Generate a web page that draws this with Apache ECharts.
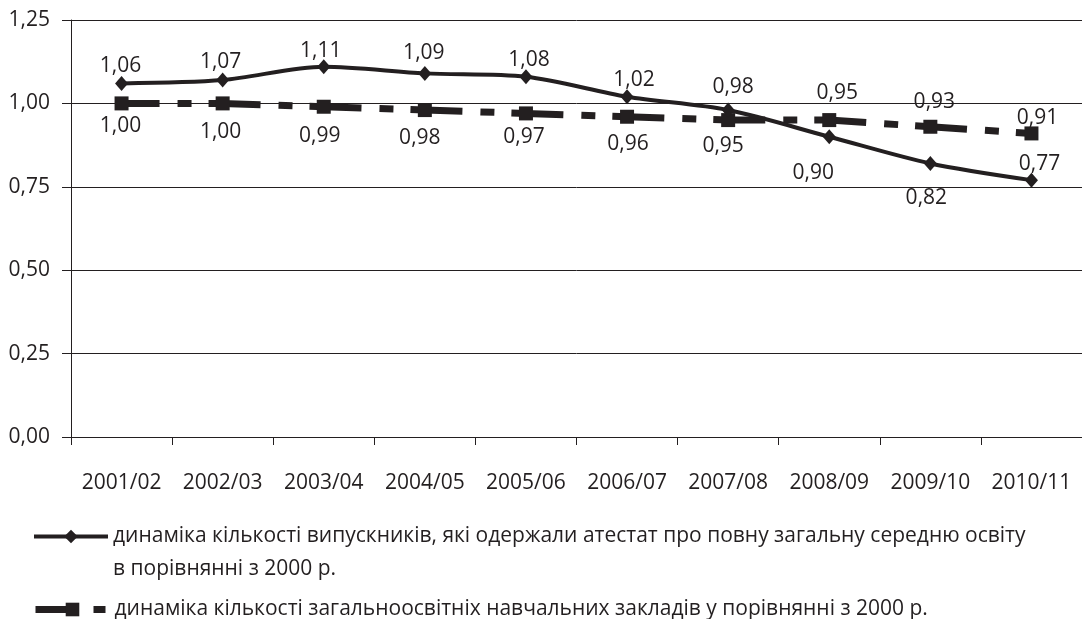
<!DOCTYPE html>
<html>
<head>
<meta charset="utf-8">
<script src="https://cdn.jsdelivr.net/npm/echarts@6/dist/echarts.min.js"></script>
<style>
html,body{margin:0;padding:0;background:#fff;}
#c{width:1082px;height:619px;}
</style>
</head>
<body>
<div id="c"></div>
<script>
const categories = ['2001/02','2002/03','2003/04','2004/05','2005/06','2006/07','2007/08','2008/09','2009/10','2010/11'];
const graduates = [1.06, 1.07, 1.11, 1.09, 1.08, 1.02, 0.98, 0.90, 0.82, 0.77];
const schools = [1.00, 1.00, 0.99, 0.98, 0.97, 0.96, 0.95, 0.95, 0.93, 0.91];
const yTicks = [0, 0.25, 0.5, 0.75, 1.0, 1.25];
const seriesNames = [
  'динаміка кількості випускників, які одержали атестат про повну загальну середню освіту в порівнянні з 2000 р.',
  'динаміка кількості загальноосвітніх навчальних закладів у порівнянні з 2000 р.'
];

// label nudges relative to each marker (styling only)
const gradLabelShift = [[-1,-17],[-2,-18],[-3,-16],[-1,-20],[3,-17],[7,-17],[5,-23],[-16,36],[-4,35],[8,-16]];
const schoolLabelShift = [[-1,23],[-2,29],[-4,29],[-5,28],[-2,24],[1,27],[-5,26],[8,-27],[4,-25],[6,-15]];

const INK = '#231f20';
const FONT = '"Open Sans", "Noto Sans", sans-serif';
const FS = 21;
const fmt = v => v.toFixed(2).replace('.', ',');

const labelAt = shift => ({
  show: true, position: 'inside', offset: shift,
  color: INK, fontFamily: FONT, fontSize: FS,
  formatter: p => fmt(p.value)
});

const chart = echarts.init(document.getElementById('c'), null, {renderer: 'canvas'});
chart.setOption({
  animation: false,
  backgroundColor: '#fff',
  textStyle: {fontFamily: FONT, color: INK},
  grid: {left: 71, right: -7, top: 20, bottom: 182},
  xAxis: {
    type: 'category',
    data: categories,
    boundaryGap: true,
    axisLine: {lineStyle: {color: INK, width: 1}},
    axisTick: {show: true, interval: 0, length: 8, lineStyle: {color: INK}},
    axisLabel: {interval: 0, color: INK, fontFamily: FONT, fontSize: FS, margin: 36}
  },
  yAxis: {
    type: 'value',
    min: yTicks[0],
    max: yTicks[yTicks.length - 1],
    interval: 0.25,
    axisLine: {show: true, lineStyle: {color: INK, width: 1}},
    axisTick: {show: true, length: 9, lineStyle: {color: INK}},
    axisLabel: {color: INK, fontFamily: FONT, fontSize: FS, margin: 21, formatter: v => fmt(v)},
    splitLine: {show: true, lineStyle: {color: INK, width: 1}}
  },
  legend: [
    {
      left: 32, top: 487, padding: 0,
      itemWidth: 74, itemHeight: 17,
      data: [seriesNames[0]],
      formatter: n => ' \n' + n.replace(' в порівнянні', '\nв порівнянні'),
      lineStyle: {width: 4},
      textStyle: {color: INK, fontFamily: FONT, fontSize: FS, lineHeight: 33}
    },
    {
      left: 32, top: 593, padding: 0,
      itemWidth: 74, itemHeight: 17,
      data: [seriesNames[1]],
      lineStyle: {width: 7, type: [33, 25, 12, 20], dashOffset: 0},
      textStyle: {color: INK, fontFamily: FONT, fontSize: FS, lineHeight: 33}
    }
  ],
  series: [
    {
      name: seriesNames[1],
      type: 'line',
      data: schools.map((v, i) => ({value: v, label: labelAt(schoolLabelShift[i])})),
      symbol: 'rect',
      symbolSize: 14,
      itemStyle: {color: INK},
      lineStyle: {color: INK, width: 7, type: [52, 18, 14, 17], dashOffset: 14},
      z: 2
    },
    {
      name: seriesNames[0],
      type: 'line',
      data: graduates.map((v, i) => ({value: v, label: labelAt(gradLabelShift[i])})),
      symbol: 'diamond',
      symbolSize: [13, 15],
      smooth: 0.3,
      itemStyle: {color: INK},
      lineStyle: {color: INK, width: 4},
      z: 3
    }
  ]
});
</script>
</body>
</html>
